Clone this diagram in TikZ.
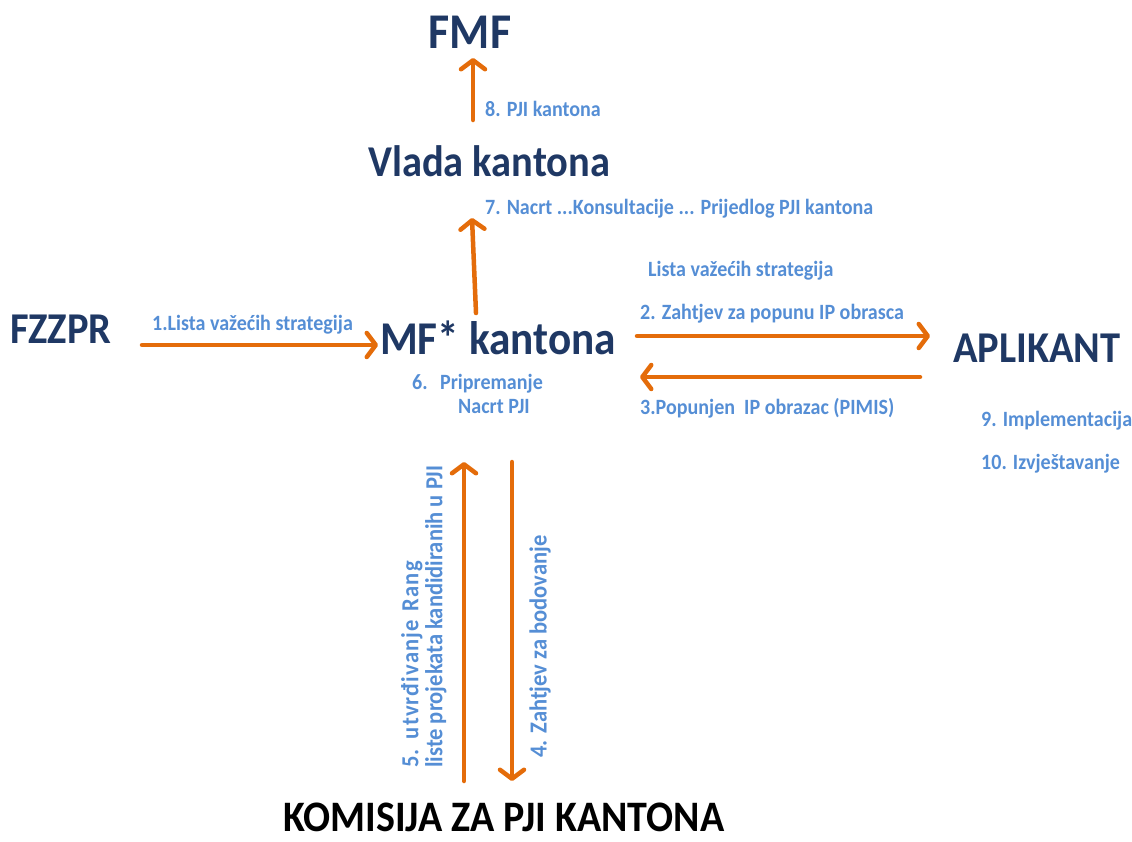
\documentclass[tikz,border=0pt]{standalone}
\usepackage{fontspec}
\setmainfont{Carlito}[FakeStretch=0.92]
\usetikzlibrary{arrows.meta}
\definecolor{navy}{HTML}{1F3864}
\definecolor{lbl}{HTML}{558ED5}
\definecolor{org}{HTML}{E46C0A}
\newcommand{\fsz}[1]{\fontsize{#1}{#1}\selectfont}
\begin{document}
\begin{tikzpicture}[x=1pt,y=-1pt,
  title/.style={font=\bfseries\fsz{46}, text=navy, inner sep=0pt},
  lab/.style={font=\bfseries\fontsize{21.8}{24}\selectfont, text=lbl, inner sep=0pt},
  vlab/.style={lab, font=\bfseries\fontsize{24.5}{24}\selectfont, rotate=90},
  flow/.style={draw=org, line width=4.5pt, line cap=round,
    -{Straight Barb[length=9pt,width=24pt,line cap=round,line join=round]}}]
\useasboundingbox (0,0) rectangle (1132,841);

% titles
\node[title, font=\bfseries\fsz{50}, anchor=base] (fmf) at (470,48) {FMF};
\node[title, font=\bfseries\fsz{44}, anchor=base west] (vlada) at (368,176) {Vlada kantona};
\node[title, font=\bfseries\fsz{44}, anchor=base west] (fzzpr) at (10,343) {FZZPR};
\node[title, font=\bfseries\fsz{47}, anchor=base west] (mf) at (380,354) {MF* kantona};
\node[title, font=\bfseries\fsz{44}, anchor=base west] (apl) at (953,362) {APLIKANT};
\node[title, font=\bfseries\fsz{43.5}, text=black, anchor=base west] (kom) at (283,831) {KOMISIJA ZA PJI KANTONA};

% labels
\node[lab, anchor=base west] (l8) at (485,116) {8. PJI kantona};
\node[lab, anchor=base west] (l7) at (485,214) {7. Nacrt ...Konsultacije ... Prijedlog PJI kantona};
\node[lab, anchor=base west] (lls) at (648,276) {Lista važećih strategija};
\node[lab, anchor=base west] (l2) at (640,319) {2. Zahtjev za popunu IP obrasca};
\node[lab, anchor=base west] (l1) at (152,330) {1.Lista važećih strategija};
\node[lab, anchor=base west, align=left] (l6) at (412,413) {\makebox[28pt][l]{6.}Pripremanje\\\hspace{46pt}Nacrt PJI};
\node[lab, anchor=base west] (l3) at (640,414) {3.Popunjen\ \ IP obrazac (PIMIS)};
\node[lab, anchor=base west] (l9) at (981,426) {9. Implementacija};
\node[lab, anchor=base west] (l10) at (981,469) {10. Izvještavanje};
\node[vlab, anchor=north west, align=left] (l5) at (401,768) {{\addfontfeature{LetterSpace=4.5}5.\hspace{2pt} utvrđivanje\hspace{3pt} Rang}\\liste projekata kandidiranih u PJI};
\node[vlab, anchor=west] (l4) at (540,758) {4. Zahtjev za bodovanje};

% arrow ends
\coordinate (a8s) at (473,120); \coordinate (a8e) at (473,58);
\coordinate (a7s) at (476,313); \coordinate (a7e) at (472,218);
\coordinate (a1s) at (142,345); \coordinate (a1e) at (378,345);
\coordinate (a2s) at (637,336); \coordinate (a2e) at (930,336);
\coordinate (a3s) at (920,377); \coordinate (a3e) at (640,377);
\coordinate (a5s) at (464,781); \coordinate (a5e) at (464,462);
\coordinate (a4s) at (512,462); \coordinate (a4e) at (512,781);

\draw[flow] (a8s) -- (a8e);
\draw[flow] (a7s) -- (a7e);
\draw[flow] (a1s) -- (a1e);
\draw[flow] (a2s) -- (a2e);
\draw[flow] (a3s) -- (a3e);
\draw[flow] (a5s) -- (a5e);
\draw[flow] (a4s) -- (a4e);
\end{tikzpicture}
\end{document}
